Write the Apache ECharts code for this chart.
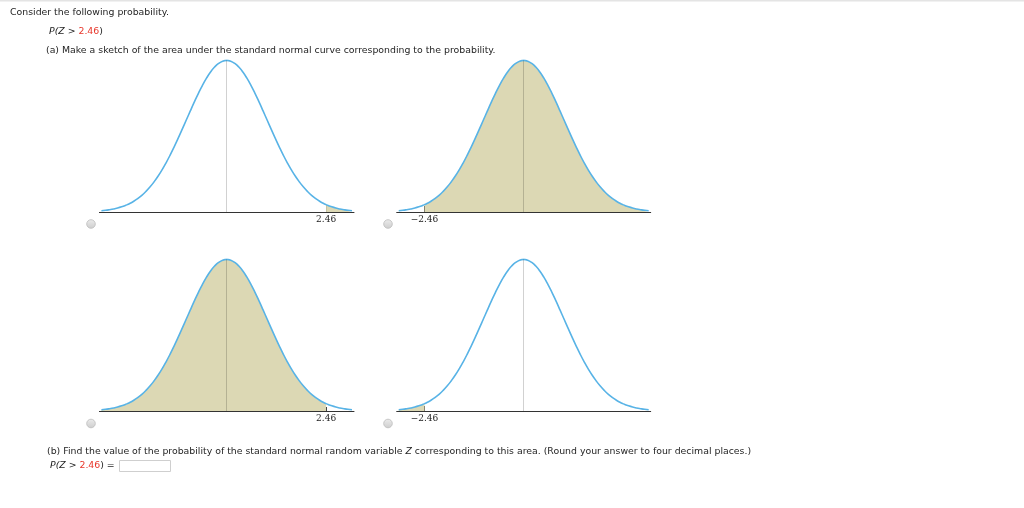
<!DOCTYPE html>
<html>
<head>
<meta charset="utf-8">
<script src="https://cdn.jsdelivr.net/npm/echarts@6/dist/echarts.min.js"></script>
<style>html,body{margin:0;padding:0;background:#fff;}#main{width:1024px;height:508px;}</style>
</head>
<body>
<div id="main"></div>
<script>
// z values along the curve and standard normal density read at each
const zValues = [-3.1,-3.0,-2.9,-2.8,-2.7,-2.6,-2.5,-2.46,-2.4,-2.3,-2.2,-2.1,-2.0,-1.9,-1.8,-1.7,-1.6,-1.5,-1.4,-1.3,-1.2,-1.1,-1.0,-0.9,-0.8,-0.7,-0.6,-0.5,-0.4,-0.3,-0.2,-0.1,0,0.1,0.2,0.3,0.4,0.5,0.6,0.7,0.8,0.9,1.0,1.1,1.2,1.3,1.4,1.5,1.6,1.7,1.8,1.9,2.0,2.1,2.2,2.3,2.4,2.46,2.5,2.6,2.7,2.8,2.9,3.0,3.1];
const density = [0.0033,0.0044,0.0060,0.0079,0.0104,0.0136,0.0175,0.0194,0.0224,0.0283,0.0355,0.0440,0.0540,0.0656,0.0790,0.0940,0.1109,0.1295,0.1497,0.1714,0.1942,0.2179,0.2420,0.2661,0.2897,0.3123,0.3332,0.3521,0.3683,0.3814,0.3910,0.3970,0.3989,0.3970,0.3910,0.3814,0.3683,0.3521,0.3332,0.3123,0.2897,0.2661,0.2420,0.2179,0.1942,0.1714,0.1497,0.1295,0.1109,0.0940,0.0790,0.0656,0.0540,0.0440,0.0355,0.0283,0.0224,0.0194,0.0175,0.0136,0.0104,0.0079,0.0060,0.0044,0.0033];
// cutoff shown on each option's axis, and which side is shaded
const cutoffs = [2.46, -2.46, 2.46, -2.46];
const shadeSides = ['above', 'above', 'below', 'below'];

const grids = [
  {left: 99.4, top: 60, width: 254.6, height: 152},
  {left: 396.7, top: 60, width: 254, height: 152},
  {left: 99.4, top: 259, width: 254.6, height: 152},
  {left: 396.7, top: 259, width: 254, height: 152}
];
const tickLens = [7, 6, 4, 5];

const curve = zValues.map((z, i) => [z, density[i]]);
const peak = Math.max(...density);

const xAxes = [], yAxes = [], series = [];
grids.forEach((g, i) => {
  const cut = cutoffs[i];
  xAxes.push({
    type: 'value', gridIndex: i, min: -3.15, max: 3.15,
    axisLine: {show: true, onZero: false, lineStyle: {color: '#333', width: 1}},
    splitLine: {show: false},
    axisTick: {show: true, inside: true, length: tickLens[i], customValues: [cut], lineStyle: {color: '#333', width: 1}},
    axisLabel: {show: true, customValues: [cut], margin: 3, color: '#222', fontFamily: 'DejaVu Serif', fontSize: 9,
      formatter: v => (v < 0 ? '\u2212' : '') + Math.abs(v).toFixed(2)}
  });
  yAxes.push({type: 'value', gridIndex: i, min: 0, max: 0.4, show: false});
  const fill = curve.filter(p => shadeSides[i] === 'above' ? p[0] >= cut - 1e-9 : p[0] <= cut + 1e-9);
  series.push({
    type: 'line', xAxisIndex: i, yAxisIndex: i, data: fill, smooth: true, symbol: 'none', z: 1,
    lineStyle: {width: 0}, areaStyle: {color: '#dcd8b4', opacity: 1}, silent: true,
    markLine: {silent: true, symbol: 'none', label: {show: false},
      lineStyle: {color: 'rgba(0,0,0,0.18)', type: 'solid', width: 1},
      data: [[{coord: [0, 0]}, {coord: [0, peak]}]]}
  });
  series.push({
    type: 'line', xAxisIndex: i, yAxisIndex: i, data: curve, smooth: true, symbol: 'none', z: 3,
    lineStyle: {color: '#58b3e6', width: 1.6}, silent: true
  });
});

const textFont = 'DejaVu Sans';
const fs = 9.35;
const ink = '#1e1e1e';
const richStyles = {
  i: {fontStyle: 'italic', fontFamily: textFont, fontSize: fs, fill: ink},
  r: {fontFamily: textFont, fontSize: fs, fill: '#e8372b'}
};
const radios = [[91, 224], [388, 224], [91, 423.5], [388, 423.5]];
const baseFont = fs + 'px "' + textFont + '"';
const graphics = [
  {type: 'rect', shape: {x: 0, y: 0, width: 1024, height: 1.5}, style: {fill: '#e4e4e4'}},
  {type: 'text', x: 10, y: 13, style: {text: 'Consider the following probability.', font: baseFont, fill: ink, textVerticalAlign: 'middle'}},
  {type: 'text', x: 49, y: 32, style: {text: '{i|P(Z} > {r|2.46})', font: baseFont, fill: ink, textVerticalAlign: 'middle', rich: richStyles}},
  {type: 'text', x: 46, y: 51, style: {text: '(a) Make a sketch of the area under the standard normal curve corresponding to the probability.', font: baseFont, fill: ink, textVerticalAlign: 'middle'}},
  {type: 'text', x: 47, y: 451.5, style: {text: '(b) Find the value of the probability of the standard normal random variable {i|Z} corresponding to this area. (Round your answer to four decimal places.)', font: baseFont, fill: ink, textVerticalAlign: 'middle', rich: richStyles}},
  {type: 'text', x: 50, y: 466, style: {text: '{i|P(Z} > {r|2.46}) =', font: baseFont, fill: ink, textVerticalAlign: 'middle', rich: richStyles}},
  {type: 'rect', shape: {x: 119.5, y: 460.5, width: 51, height: 11}, style: {fill: '#fff', stroke: '#cfcfcf', lineWidth: 1}}
];
radios.forEach(r => graphics.push({type: 'circle', shape: {cx: r[0], cy: r[1], r: 4.3},
  style: {fill: {type: 'linear', x: 0, y: 0, x2: 0, y2: 1, colorStops: [{offset: 0, color: '#ececec'}, {offset: 1, color: '#cdcdcd'}]}, stroke: '#bcbcbc', lineWidth: 0.8}}));

const chart = echarts.init(document.getElementById('main'), null, {renderer: 'canvas'});
chart.setOption({
  animation: false,
  backgroundColor: '#fff',
  grid: grids,
  xAxis: xAxes,
  yAxis: yAxes,
  series: series,
  graphic: graphics
});
</script>
</body>
</html>
